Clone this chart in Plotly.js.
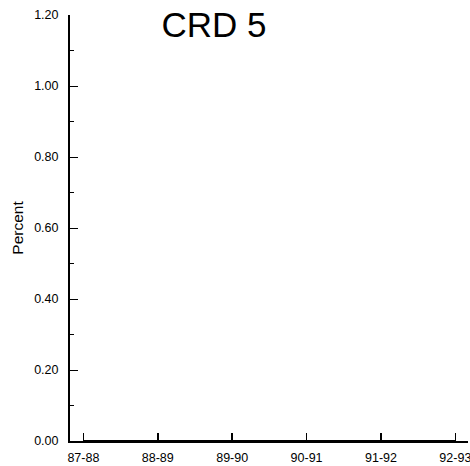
<!DOCTYPE html>
<html><head><meta charset="utf-8">
<script src="https://cdn.plot.ly/plotly-3.0.1.min.js"></script>
<style>html,body{margin:0;padding:0;background:#fff}#c{width:470px;height:466px}</style>
</head><body><div id="c"></div>
<script>
var categories = ["87-88","88-89","89-90","90-91","91-92","92-93"];
var percentValues = [0, 0, 0, 0, 0, 0];
var yTickVals = [0, 0.2, 0.4, 0.6, 0.8, 1.0, 1.2];
var chartTitle = "CRD 5";
var yTitle = "Percent";

var font = "Arial, 'Liberation Sans', sans-serif";
Plotly.newPlot("c", [{
  x: categories.map(function(c, i){ return i; }),
  y: percentValues,
  type: "scatter", mode: "lines",
  line: {color: "#000", width: 2},
  hoverinfo: "skip", showlegend: false
}], {
  width: 470, height: 466,
  margin: {l: 70, r: 2, t: 15, b: 25, pad: 0},
  paper_bgcolor: "#fff", plot_bgcolor: "#fff",
  font: {family: font, color: "#000"},
  title: {text: chartTitle, font: {size: 35, family: font, color: "#000"}, x: 214/470, xanchor: "center", y: 1 - 25/466, yanchor: "middle"},
  xaxis: {
    range: [-0.18, 5.17], tickmode: "array",
    tickvals: categories.map(function(c, i){ return i; }), ticktext: categories,
    ticks: "inside", ticklen: 8, tickwidth: 1.5, tickcolor: "#000",
    ticklabelstandoff: 4, ticklabeloverflow: "allow",
    showline: true, linecolor: "#000", linewidth: 2, showgrid: false, zeroline: false,
    tickfont: {size: 12.5, family: font}, fixedrange: true
  },
  yaxis: {
    range: [0, 1.2], tickmode: "array", tickvals: yTickVals,
    ticktext: yTickVals.map(function(v){ return v.toFixed(2); }),
    ticks: "inside", ticklen: 8, tickwidth: 1, tickcolor: "#000",
    ticklabelstandoff: 7,
    minor: {tickmode: "array", tickvals: [0.1,0.3,0.5,0.7,0.9,1.1], ticks: "inside", ticklen: 4, tickcolor: "#000", tickwidth: 1},
    showline: true, linecolor: "#000", linewidth: 2, showgrid: false, zeroline: false,
    tickfont: {size: 12.5, family: font},
    title: {text: yTitle, font: {size: 15.5, family: font}, standoff: 7},
    fixedrange: true
  }
}, {displayModeBar: false, staticPlot: true});
</script></body></html>
